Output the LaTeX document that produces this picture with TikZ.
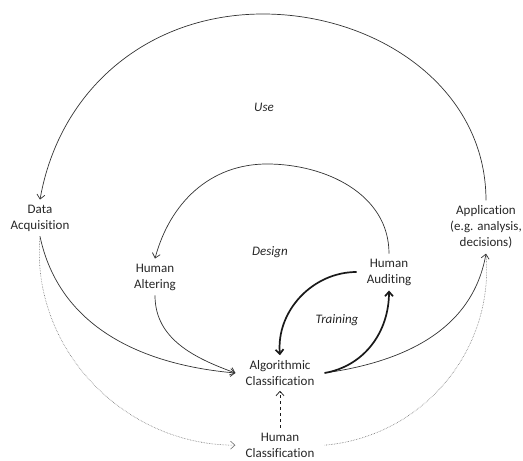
\documentclass[tikz,border=0pt]{standalone}
\usepackage{fontspec}
\setmainfont{Carlito}[Ligatures=NoCommon]
\usetikzlibrary{positioning,arrows.meta}

\begin{document}
\begin{tikzpicture}[
  x=1pt, y=1pt,
  every node/.style={font=\fontsize{13}{16}\selectfont, text=black!85},
  stage/.style={align=center, inner xsep=10pt, inner ysep=5pt},
  phase/.style={font=\fontsize{13}{16}\selectfont\itshape},
  arr/.style ={-{Straight Barb[length=4.5pt,width=8pt]}, line width=0.7pt, black!80},
  bold/.style={-{Straight Barb[length=4.5pt,width=8pt]}, line width=1.7pt, black!90},
  dots/.style={densely dotted, line width=0.6pt, black!55},
  dasharr/.style={-{Straight Barb[length=4.5pt,width=8pt]}, dashed, line width=0.7pt, black!90}
]
\useasboundingbox (0,0) rectangle (523,461);

%% --- Stages on the outer loop --------------------------------
\node[stage] (data) at (40,243)  {Data\\Acquisition};
\node[stage] (app)  at (486,234) {Application\\(e.g. analysis,\\decisions)};

%% --- Stages on the inner loop --------------------------------
\node[stage] (alter) at (155,184) {Human\\Altering};
\node[stage] (audit) at (389,189) {Human\\Auditing};

%% --- Classification ------------------------------------------
\node[stage] (alg) at (280,88) {Algorithmic\\Classification};
\node[stage, below=37pt of alg] (hclass) {Human\\Classification};

%% --- Phase labels --------------------------------------------
\node[phase] (use)    at (264,354) {Use};
\node[phase] (design) at (270,209) {Design};
\node[phase] (train)  at (337,141) {Training};

%% --- Loops ---------------------------------------------------
\coordinate (usetop)    at (263,447);
\coordinate (designtop) at (267,297);
\draw[arr] (app.north) to[out=90,in=0] (usetop)
           to[out=180,in=80] (data.north);
\draw[arr] (audit.north) to[out=90,in=0] (designtop)
           to[out=180,in=75] (alter.north);

%% --- Into the classifier -------------------------------------
\draw[arr] (data.south)  to[out=-78,in=175] (alg.west);
\draw[arr] (alter.south) to[out=-90,in=160] (alg.west);
\draw[dots, -{Straight Barb[length=4.5pt,width=8pt]}]
           (data.south)  to[out=-95,in=180] (hclass.west);
\draw[dasharr] (hclass.north) -- (alg.south);

%% --- Out to application --------------------------------------
\draw[arr]  (alg.east)    to[out=8,in=-100] (app.south);
\draw[dots] (hclass.east) to[out=5,in=-85]  (app.south);

%% --- Training ------------------------------------------------
\draw[bold] (audit.west) to[out=180,in=95] (alg.north);
\draw[bold] (alg.east)   to[out=10,in=-90] (audit.south);

\end{tikzpicture}
\end{document}
